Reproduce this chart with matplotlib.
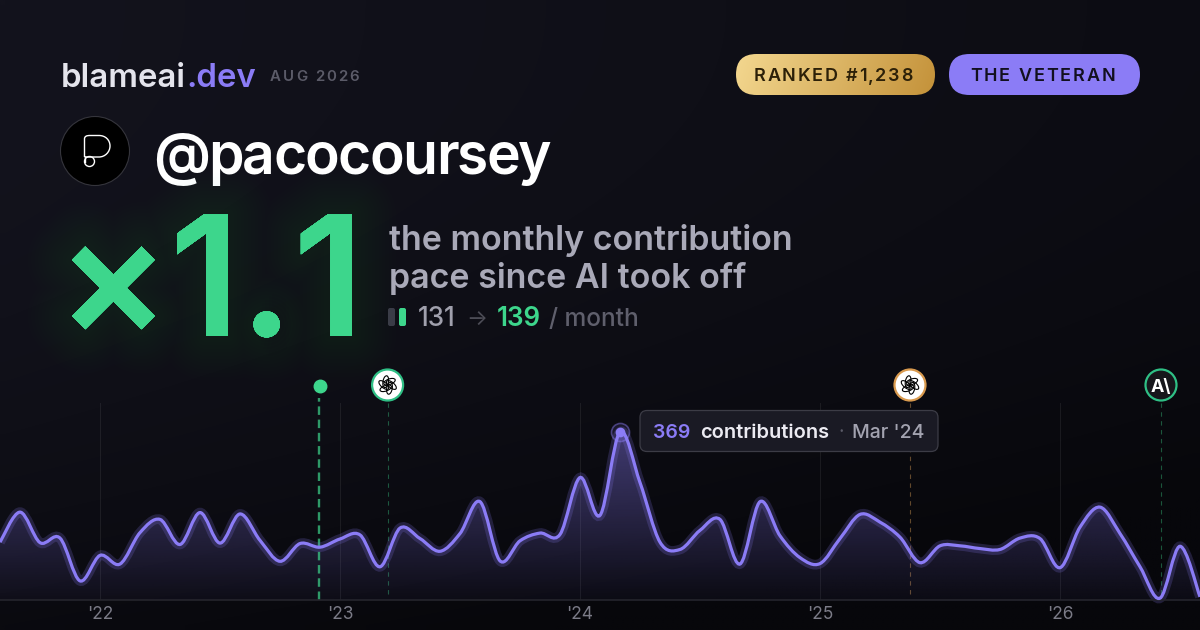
import numpy as np
import matplotlib
matplotlib.use("Agg")
import matplotlib.pyplot as plt
import matplotlib.patheffects as pe
from matplotlib.patches import Circle, Ellipse, FancyBboxPatch, PathPatch
from matplotlib.path import Path

plt.rcParams['font.family'] = ['Inter', 'DejaVu Sans']

# monthly contributions, Aug '21 .. Aug '26 (month 0 = Jan '22)
months = list(range(-5, 56))
contributions = [127, 193, 126, 136, 42, 98, 79, 148, 177, 122, 192, 125, 189, 131, 85, 124,
                 116, 134, 143, 73, 158, 135, 107, 146, 216, 86, 130, 147, 144, 269, 186, 369,
                 258, 127, 111, 153, 177, 79, 216, 141, 93, 80, 135, 188, 171, 138, 82, 119,
                 119, 113, 111, 136, 135, 71, 160, 204, 146, 73, 4, 118, 7]
year_ticks = [0, 12, 24, 36, 48]
year_labels = ["'22", "'23", "'24", "'25", "'26"]
takeoff_month = 10.97
openai_months = [14.38, 40.5]
anthropic_month = 53.05
peak_month = 26
peak_value = 369

PURPLE = '#8b7cf6'
GREEN = '#3dd68c'


def smooth_path(xs, ys):
    # catmull-rom through the monthly points, as bezier segments
    xs = np.array(xs, dtype=float)
    ys = np.array(ys, dtype=float)
    verts = [(xs[0], ys[0])]
    codes = [Path.MOVETO]
    for i in range(len(xs) - 1):
        a = max(i - 1, 0)
        b = min(i + 2, len(xs) - 1)
        verts.append((xs[i] + (xs[i + 1] - xs[a]) / 6, ys[i] + (ys[i + 1] - ys[a]) / 6))
        verts.append((xs[i + 1] - (xs[b] - xs[i]) / 6, ys[i + 1] - (ys[b] - ys[i]) / 6))
        verts.append((xs[i + 1], ys[i + 1]))
        codes += [Path.CURVE4, Path.CURVE4, Path.CURVE4]
    return verts, codes


fig = plt.figure(figsize=(12, 6.3), dpi=100)

# background
ax_bg = fig.add_axes([0, 0, 1, 1], zorder=0)
ax_bg.axis('off')
gx, gy = np.meshgrid(np.linspace(0, 1, 120), np.linspace(0, 1, 64))
shade = np.clip(1 - 0.55 * gx - 0.75 * gy ** 2.2, 0, 1)
top = np.array([0x07, 0x07, 0x0b]) / 255
low = np.array([0x13, 0x13, 0x1d]) / 255
bg = top + (low - top) * shade[..., None]
ax_bg.imshow(bg, extent=[0, 1, 0, 1], origin='upper', aspect='auto', interpolation='bilinear')

# chart, baseline at y=600 and top at y=403
ax = fig.add_axes([0, 30 / 630, 1, 197 / 630], zorder=1)
ax.patch.set_alpha(0)
ymax = 197 / 168 * 369
ax.set_xlim(-5, 55)
ax.set_ylim(0, ymax)
for s in ['top', 'left', 'right']:
    ax.spines[s].set_visible(False)
ax.spines['bottom'].set_color('#25252d')
ax.spines['bottom'].set_linewidth(1.2)
ax.set_yticks([])
ax.set_xticks(year_ticks)
ax.set_xticklabels(year_labels, fontsize=12.5, color='#7b7b87')
ax.tick_params(axis='x', length=0, pad=4.5)
ax.grid(axis='x', color='white', alpha=0.07, lw=0.8)
ax.set_axisbelow(True)

verts, codes = smooth_path(months, contributions)
line_path = Path(verts, codes)
area = Path(verts + [(55, 0), (-5, 0), (-5, contributions[0]), (-5, contributions[0])],
            codes + [Path.LINETO, Path.LINETO, Path.LINETO, Path.CLOSEPOLY])
grad = np.zeros((100, 2, 4))
grad[..., :3] = matplotlib.colors.to_rgb(PURPLE)
grad[..., 3] = np.linspace(0.42, 0.04, 100)[:, None]
im = ax.imshow(grad, extent=[-5, 55, 0, peak_value], origin='upper', aspect='auto', zorder=1.5)
im.set_clip_path(PathPatch(area, transform=ax.transData))
ax.set_xlim(-5, 55)
ax.set_ylim(0, ymax)

ax.add_patch(PathPatch(line_path, fc='none', ec=PURPLE, lw=7, alpha=0.2, zorder=2, clip_on=False))
ax.add_patch(PathPatch(line_path, fc='none', ec=PURPLE, lw=2.3, zorder=3, clip_on=False))

# launch lines, they run a little above the chart
trans = ax.get_xaxis_transform()
ax.plot([takeoff_month] * 2, [0, 1.025], transform=trans, color=GREEN, alpha=0.7, lw=1.7,
        dashes=(3.6, 2), clip_on=False, zorder=1.8)
ax.plot([openai_months[0]] * 2, [0.03, 1.0], transform=trans, color=GREEN, alpha=0.38, lw=0.8,
        dashes=(4, 4), clip_on=False, zorder=1.2)
ax.plot([openai_months[1]] * 2, [0.03, 1.0], transform=trans, color='#e0a458', alpha=0.42, lw=0.8,
        dashes=(4, 4), clip_on=False, zorder=1.2)
ax.plot([anthropic_month] * 2, [0.03, 1.0], transform=trans, color=GREEN, alpha=0.38, lw=0.8,
        dashes=(4, 4), clip_on=False, zorder=1.2)

ax.plot([peak_month], [peak_value], 'o', ms=6, color=PURPLE, zorder=4, clip_on=False)
ax.plot([peak_month], [peak_value], 'o', ms=13, mfc=(0.55, 0.49, 0.96, 0.12), mec=(0.55, 0.49, 0.96, 0.45),
        mew=1.2, zorder=4, clip_on=False)

# everything else in pixel coordinates
ov = fig.add_axes([0, 0, 1, 1], zorder=2)
ov.patch.set_alpha(0)
ov.axis('off')
ov.set_xlim(0, 1200)
ov.set_ylim(630, 0)
renderer = fig.canvas.get_renderer()


def px(size):
    return size * 0.72


def run(x, y, s, size, color, weight='normal', spacing=None, **kw):
    # draws s from x on a baseline, returns where it ended
    if spacing is None:
        t = ov.text(x, y, s, fontsize=px(size), color=color, fontweight=weight, va='baseline', **kw)
        return x + t.get_window_extent(renderer).width
    for ch in s:
        t = ov.text(x, y, ch, fontsize=px(size), color=color, fontweight=weight, va='baseline', **kw)
        w = t.get_window_extent(renderer).width
        if ch == ' ':
            w = size * 0.28
        x += w + spacing
    return x


# header
end = run(61, 87, "blameai", 33, '#e4e4ec', weight='semibold')
run(end, 87, ".dev", 33, PURPLE, weight='semibold')
run(270, 81, "AUG 2026", 15, '#5b5b68', weight='semibold', spacing=2.0)


def pill(x0, x1, y0, y1, **kw):
    p = FancyBboxPatch((x0 + 20, y0 + 20), x1 - x0 - 40, y1 - y0 - 40,
                       boxstyle="round,pad=20,rounding_size=20.5", **kw)
    ov.add_patch(p)
    return p


gold = pill(736, 935, 54, 95, fc='none', ec='none')
gx2, gy2 = np.meshgrid(np.linspace(0, 1, 120), np.linspace(0, 1, 30))
mix = np.clip(gx2 * 0.93 + gy2 * 0.07, 0, 1)[..., None]
c0 = np.array(matplotlib.colors.to_rgb('#f3d78f'))
c1 = np.array(matplotlib.colors.to_rgb('#c4923a'))
gold_im = ov.imshow(c0 + (c1 - c0) * mix, extent=[736, 935, 95, 54], aspect='auto', zorder=1)
gold_im.set_clip_path(gold)
ov.set_xlim(0, 1200)
ov.set_ylim(630, 0)
pill(949, 1140, 54, 95, fc=PURPLE, ec='none', zorder=1)
run(754, 81, "RANKED #1,238", 18, '#2c2008', weight='semibold', spacing=1.6, zorder=2)
run(970, 81, "THE VETERAN", 18, '#12101f', weight='semibold', spacing=1.8, zorder=2)

# avatar
ov.add_patch(Circle((95, 151), 34.5, fc='black', ec='#35353c', lw=0.8))
p_verts = [(84.5, 157), (84.5, 139), (84.5, 136), (87, 135.5), (90, 135.5), (99, 135.5),
           (105.5, 135.5), (110, 140), (110, 146), (110, 152), (105, 157), (99, 157), (84.5, 157)]
p_codes = [Path.MOVETO, Path.LINETO, Path.CURVE4, Path.CURVE4, Path.CURVE4, Path.LINETO,
           Path.CURVE4, Path.CURVE4, Path.CURVE4, Path.CURVE4, Path.CURVE4, Path.CURVE4, Path.LINETO]
ov.add_patch(PathPatch(Path(p_verts, p_codes), fc='none', ec='white', lw=1.0))
ov.plot([84.5, 84.5], [157, 162], color='white', lw=1.0)
ov.add_patch(Circle((89.5, 161.5), 5, fc='none', ec='white', lw=1.0))

run(153, 174, "@pacocoursey", 57, 'white', weight='semibold', spacing=-1.7)

# big number with glow
big = ov.text(57, 336, "×1.1", fontsize=px(167), color=GREEN, fontweight='semibold', va='baseline')
big.set_path_effects([pe.withStroke(linewidth=w, foreground=GREEN, alpha=0.009)
                      for w in range(64, 4, -5)] + [pe.Normal()])

run(389, 250, "the monthly contribution", 34, '#a9a9b8', weight='semibold')
run(389, 288, "pace since AI took off", 34, '#a9a9b8', weight='semibold')

ov.add_patch(FancyBboxPatch((389, 309), 5, 16, boxstyle="round,pad=1,rounding_size=2", fc='#3a3a47', ec='none'))
ov.add_patch(FancyBboxPatch((400, 309), 5, 16, boxstyle="round,pad=1,rounding_size=2", fc=GREEN, ec='none'))
run(418, 326, "131", 26, '#a0a0ad', weight='medium')
run(466, 326, "→", 22, '#4c4c56')
run(497, 326, "139", 26, GREEN, weight='semibold')
run(549, 326, "/ month", 24.5, '#5f5f6c', weight='medium')

# launch markers
ov.plot([319.5], [385.5], 'o', ms=9, color=GREEN)


def openai_mark(x, y, edge):
    ov.add_patch(Circle((x, y), 15.5, fc='white', ec=edge, lw=1.6))
    for ang in range(0, 360, 60):
        a = np.radians(ang)
        ov.add_patch(Ellipse((x + 3.8 * np.cos(a), y + 3.8 * np.sin(a)), 12, 5.5, angle=ang + 40,
                             fc='none', ec='black', lw=0.8))


x_a, x_b = [100 + m * 20 for m in openai_months]
openai_mark(x_a, 385, '#2fbf85')
openai_mark(x_b, 385, '#d99a4e')
x_c = 100 + anthropic_month * 20
ov.add_patch(Circle((x_c, 385), 15.5, fc='#16161b', ec='#2fbf85', lw=1.6))
ov.text(x_c, 385, "A\\", fontsize=px(18), color='white', fontweight='bold', ha='center', va='center_baseline')

# tooltip
tip = FancyBboxPatch((646, 416.5), 286, 29, boxstyle="round,pad=6,rounding_size=7",
                     fc='#1a1a24', ec='#3c3c46', lw=0.9, zorder=3)
ov.add_patch(tip)
run(653, 438, "369", 19.5, PURPLE, weight='semibold', zorder=4)
run(700.5, 438, "contributions", 20, '#ecebf2', weight='semibold', zorder=4)
run(838, 438, "·", 19, '#5b5b68', zorder=4)
run(852, 438, "Mar '24", 19.5, '#a3a3b0', weight='medium', zorder=4)

fig.savefig('out.png', dpi=100)
